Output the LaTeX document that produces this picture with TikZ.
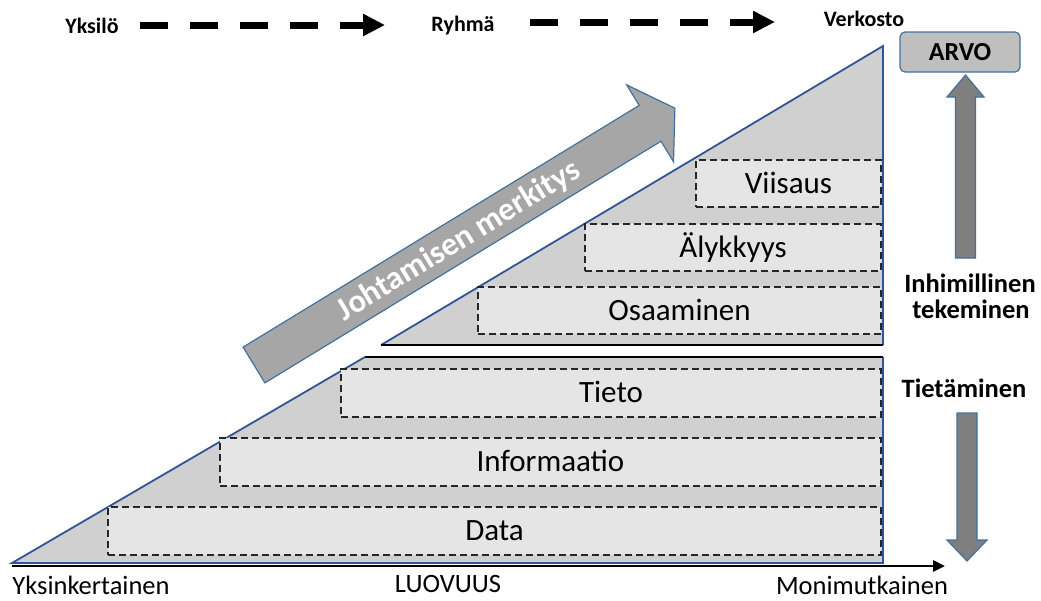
\documentclass[tikz,border=0pt]{standalone}
\usepackage{fontspec}
\setmainfont{Carlito}
\usetikzlibrary{arrows.meta}
\definecolor{tri}{RGB}{208,208,208}
\definecolor{boxfill}{RGB}{229,229,229}
\definecolor{edgeblue}{RGB}{47,85,151}
\definecolor{arrowgray}{RGB}{166,166,166}
\definecolor{darkarrow}{RGB}{127,127,127}
\definecolor{arvofill}{RGB}{191,191,191}
\definecolor{arrowedge}{RGB}{65,113,156}
\begin{document}
\begin{tikzpicture}[x=1pt,y=-1pt,
  lvl/.style={draw=black!85, dash pattern=on 7pt off 4pt, line width=1.3pt, fill=boxfill, inner sep=0pt, text height=19.6pt, text depth=0pt, font=\fontsize{31}{37}\selectfont},
  toplbl/.style={font=\fontsize{22}{26}\selectfont\bfseries, anchor=base},
  sidelbl/.style={font=\fontsize{26.5}{31}\selectfont\bfseries, anchor=base},
  axlbl/.style={font=\fontsize{26.5}{31}\selectfont, anchor=base},
  flow/.style={line width=7pt, dash pattern=on 28pt off 22pt, -{Triangle[length=22pt,width=21pt]}},
  blueedge/.style={draw=edgeblue, line width=1.8pt, line join=miter},
  blackedge/.style={draw=black, line width=2.5pt},
  bigarrow/.style={fill=arrowgray, draw=arrowedge, line width=1.2pt, line join=miter},
  vertarrow/.style={fill=darkarrow, draw=arrowedge, line width=1.2pt, line join=miter}
]
\useasboundingbox (0,0) rectangle (1041,600);

% top flow
\node[toplbl] (yks) at (92,33) {Yksilö};
\node[toplbl] (ryh) at (463,31) {Ryhmä};
\node[toplbl] (ver) at (864,26) {Verkosto};
\coordinate (f1s) at (140,25);
\coordinate (f1e) at (385,25);
\coordinate (f2s) at (530,22);
\coordinate (f2e) at (775,22);
\draw[flow] (f1s) -- (f1e);
\draw[flow] (f2s) -- (f2e);

% lower trapezoid
\fill[tri] (12,563) -- (365,357) -- (883,357) -- (883,563) -- cycle;
\draw[blueedge] (365,357) -- (12,563) -- (883,563) -- (883,357);
\draw[blackedge] (365,357) -- (883,357);

% upper triangle
\fill[tri] (381,345) -- (883,46) -- (883,345) -- cycle;
\draw[blueedge] (381,345) -- (883,46) -- (883,345);
\draw[blackedge] (381,345) -- (883,345);

% level boxes
\node[lvl, minimum width=773pt, minimum height=48pt] (data) at (494.5,531) {Data};
\node[lvl, minimum width=661pt, minimum height=48pt] (info) at (550.5,462) {Informaatio};
\node[lvl, minimum width=540pt, minimum height=48pt] (tieto) at (611,393) {Tieto};
\node[lvl, minimum width=403pt, minimum height=47pt] (osa) at (679.5,310.5) {Osaaminen};
\node[lvl, minimum width=296pt, minimum height=47pt] (aly) at (733,247.5) {Älykkyys};
\node[lvl, minimum width=185pt, minimum height=47pt] (vii) at (788.5,183.5) {Viisaus};

% big diagonal arrow
\draw[bigarrow] (243.1,347.1) -- (639.2,105.4) -- (626.7,84.9) -- (674.9,108.2)
  -- (673.5,161.7) -- (661.0,141.2) -- (264.9,382.9) -- cycle;
\node[font=\fontsize{32.5}{38}\selectfont\bfseries, text=white, rotate=31.4] (jm) at (459,241) {Johtamisen merkitys};

% ARVO and vertical arrows
\node[draw=arrowedge, fill=arvofill, rounded corners=5pt, minimum width=120pt, minimum height=40pt, line width=1.2pt, inner sep=0pt, font=\fontsize{26}{31}\selectfont\bfseries, text height=16.6pt, text depth=0pt] (arvo) at (960,52) {ARVO};
\draw[vertarrow] (955.5,258) -- (955.5,97) -- (947,97) -- (965.5,75) -- (984,97) -- (975.5,97) -- (975.5,258) -- cycle;
\draw[vertarrow] (957,413) -- (957,540) -- (947,540) -- (967,561) -- (987,540) -- (977,540) -- (977,413) -- cycle;

\node[sidelbl] (inh) at (970,292) {Inhimillinen};
\node[sidelbl] (tek) at (971,318) {tekeminen};
\node[sidelbl] (tie) at (964,397) {Tietäminen};

% axis
\coordinate (axs) at (12,566);
\coordinate (axe) at (945,566);
\draw[line width=2.8pt, -{Triangle[length=12pt,width=11pt]}] (axs) -- (axe);
\node[axlbl] (yk) at (91,594) {Yksinkertainen};
\node[axlbl] (luo) at (448,592) {LUOVUUS};
\node[axlbl] (mon) at (862,594) {Monimutkainen};
\end{tikzpicture}
\end{document}
